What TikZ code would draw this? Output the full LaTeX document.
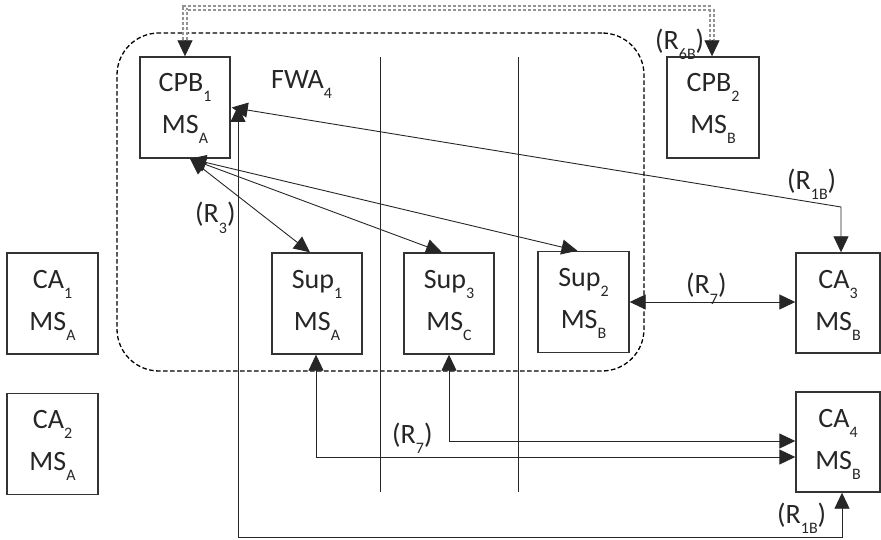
\documentclass[tikz,border=0pt]{standalone}
\usepackage{fontspec}
\setmainfont{Carlito}
\usetikzlibrary{arrows.meta,calc}
\newcommand\lowsub[1]{\raisebox{-10pt}{\fontsize{16}{16}\selectfont #1}}
\tikzset{
  boxst/.style={draw=black!80, line width=1.4pt, inner sep=0pt, minimum width=90pt, minimum height=101pt},
  txt/.style={font=\fontsize{28}{28}\selectfont, anchor=base, inner sep=0pt, text=black!85},
  lbl/.style={font=\fontsize{28}{28}\selectfont, anchor=base west, inner sep=0pt, text=black!85},
  conn/.style={line width=0.9pt, draw=black!85},
  tip/.style={-{Triangle[length=16pt,width=15pt]}},
  tips/.style={{Triangle[length=16pt,width=15pt]}-{Triangle[length=16pt,width=15pt]}},
  region/.style={draw=black, line width=1.3pt, dash pattern=on 4.5pt off 2.5pt, rounded corners=42pt, inner sep=0pt},
  sep/.style={line width=0.9pt, draw=black!85},
  grayline/.style={draw=gray!85, line width=1.8pt, double=white, double distance=1.5pt, dash pattern=on 3.5pt off 1.5pt}
}
\begin{document}
\begin{tikzpicture}[x=1pt,y=-1pt]
\useasboundingbox (0,0) rectangle (881,540);
% region
\node[region, minimum width=527pt, minimum height=338pt] (fwa) at (380.5,202) {};
\node[lbl] (fwalbl) at (271,89) {FWA\lowsub{4}};
% separators
\coordinate (s1t) at (380,57); \coordinate (s1b) at (380,492);
\coordinate (s2t) at (518,57); \coordinate (s2b) at (518,492);
\draw[sep] (s1t) -- (s1b);
\draw[sep] (s2t) -- (s2b);
% boxes
\node[boxst] (CPB1) at (185,107.5) {};
\node[txt] (CPB1a) at ($(CPB1.north)+(0,35)$) {CPB\lowsub{1}};
\node[txt] (CPB1b) at ($(CPB1.north)+(0,77)$) {MS\lowsub{A}};
\node[boxst, minimum width=92pt] (CPB2) at (713,107.5) {};
\node[txt] (CPB2a) at ($(CPB2.north)+(0,35)$) {CPB\lowsub{2}};
\node[txt] (CPB2b) at ($(CPB2.north)+(0,77)$) {MS\lowsub{B}};
\node[boxst, minimum width=91pt] (CA1) at (52.5,303.5) {};
\node[txt] (CA1a) at ($(CA1.north)+(0,36)$) {CA\lowsub{1}};
\node[txt] (CA1b) at ($(CA1.north)+(0,78)$) {MS\lowsub{A}};
\node[boxst, minimum width=91pt] (CA2) at (52.5,444) {};
\node[txt] (CA2a) at ($(CA2.north)+(0,36)$) {CA\lowsub{2}};
\node[txt] (CA2b) at ($(CA2.north)+(0,78)$) {MS\lowsub{A}};
\node[boxst] (Sup1) at (317,303.5) {};
\node[txt] (Sup1a) at ($(Sup1.north)+(0,36)$) {Sup\lowsub{1}};
\node[txt] (Sup1b) at ($(Sup1.north)+(0,78)$) {MS\lowsub{A}};
\node[boxst] (Sup3) at (449,303.5) {};
\node[txt] (Sup3a) at ($(Sup3.north)+(0,36)$) {Sup\lowsub{3}};
\node[txt] (Sup3b) at ($(Sup3.north)+(0,78)$) {MS\lowsub{C}};
\node[boxst, minimum width=91pt] (Sup2) at (583.5,302) {};
\node[txt] (Sup2a) at ($(Sup2.north)+(0,36)$) {Sup\lowsub{2}};
\node[txt] (Sup2b) at ($(Sup2.north)+(0,78)$) {MS\lowsub{B}};
\node[boxst, minimum width=84pt, minimum height=100pt] (CA3) at (838,303) {};
\node[txt] (CA3a) at ($(CA3.north)+(0,36)$) {CA\lowsub{3}};
\node[txt] (CA3b) at ($(CA3.north)+(0,78)$) {MS\lowsub{B}};
\node[boxst, minimum width=84pt, minimum height=100pt] (CA4) at (838,442) {};
\node[txt] (CA4a) at ($(CA4.north)+(0,36)$) {CA\lowsub{4}};
\node[txt] (CA4b) at ($(CA4.north)+(0,78)$) {MS\lowsub{B}};
% gray double line
\coordinate (gtop) at (185,8);
\coordinate (g1) at ($(CPB1.north)+(0,-16)$);
\coordinate (g2) at ($(CPB2.north)+(-1,-16)$);
\draw[grayline] (g1) |- (gtop) -| (g2);
\draw[conn,tip] (g1) -- (CPB1.north);
\draw[conn,tip] (g2) -- ($(CPB2.north)+(-1,0)$);
\node[lbl] (r6b) at (655,50) {(R\lowsub{6B})};
% CPB1 to Sups
\coordinate (c1) at ($(CPB1.south)+(5,0)$);
\draw[conn,tips] (c1) -- ($(Sup1.north)+(-7,0)$);
\draw[conn,tips] (c1) -- ($(Sup3.north)+(-7,0)$);
\draw[conn,tips] (c1) -- ($(Sup2.north)+(-6,0)$);
\node[lbl] (r3) at (195,223) {(R\lowsub{3})};
% R1B upper
\coordinate (k1) at (841,207);
\draw[conn,tips] ($(CPB1.east)+(1,0)$) -- (k1) -- ($(CA3.north)+(3,0)$);
\node[lbl] (r1b) at (787,190) {(R\lowsub{1B})};
% R1B lower
\coordinate (v1) at (238,106);
\coordinate (b1) at (238,537);
\draw[conn,tips] (v1) -- (b1) -| ($(CA4.south)+(4,0)$);
\node[lbl] (r1b2) at (777,523) {(R\lowsub{1B})};
% R7 right
\draw[conn,tips] (Sup2.east) -- (Sup2.east -| CA3.west);
\node[lbl] (r7a) at (686,294) {(R\lowsub{7})};
% R7 lower
\draw[conn,tips] ($(Sup1.south)+(-1,0)$) |- ($(CA4.west)+(0,15)$);
\draw[conn,tips] (Sup3.south) |- ($(CA4.west)+(0,-1)$);
\node[lbl] (r7b) at (392,443) {(R\lowsub{7})};
\end{tikzpicture}
\end{document}
